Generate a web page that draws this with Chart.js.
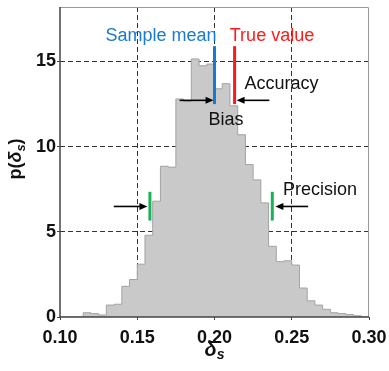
<!DOCTYPE html>
<html>
<head>
<meta charset="utf-8">
<script src="https://cdn.jsdelivr.net/npm/chart.js@4.4.1/dist/chart.umd.min.js"></script>
<style>
  html, body { margin: 0; padding: 0; background: #fff; }
</style>
</head>
<body>
<canvas id="histo" width="389" height="371"></canvas>
<script>
// left edges of the histogram bins (width 0.005)
const binStarts = [
  0.100, 0.105, 0.110, 0.115, 0.120, 0.125, 0.130, 0.135, 0.140, 0.145,
  0.150, 0.155, 0.160, 0.165, 0.170, 0.175, 0.180, 0.185, 0.190, 0.195,
  0.200, 0.205, 0.210, 0.215, 0.220, 0.225, 0.230, 0.235, 0.240, 0.245,
  0.250, 0.255, 0.260, 0.265, 0.270, 0.275, 0.280, 0.285, 0.290, 0.295
];
const binEnd = 0.300;
const density = [
  0, 0, 0, 0.25, 0.2, 0.12, 0.7, 0.75, 1.8, 2.2,
  3.1, 4.8, 6.8, 8.85, 8.8, 12.8, 12.65, 15.15, 14.75, 14.85,
  13.4, 13.7, 12.4, 10.7, 8.95, 8.05, 6.7, 4.15, 3.25, 3.3,
  3.05, 1.7, 0.95, 0.7, 0.45, 0.25, 0.2, 0.15, 0.07, 0
];
const xTicks = [0.10, 0.15, 0.20, 0.25, 0.30];
const yTicks = [0, 5, 10, 15];

// annotation values
const sampleMean = 0.200;
const trueValue = 0.213;
const meanSpan = [12.5, 15.9];
const precisionEdges = [0.1582, 0.2374];
const precisionSpan = [5.66, 7.35];
// arrows: [fromX, toX, y]
const biasArrows = [[0.1774, 0.1994, 12.72], [0.2355, 0.2143, 12.72]];
const precisionArrows = [[0.1348, 0.1566, 6.49], [0.2606, 0.2394, 6.49]];
// text labels: [text, x, y, align, colour]
const notes = [
  ['Sample mean', 0.2013, 16.47, 'right', '#1a7ad0'],
  ['True value', 0.2099, 16.47, 'left', '#ff1a1a'],
  ['Accuracy', 0.2194, 13.65, 'left', '#111'],
  ['Bias', 0.1961, 11.55, 'left', '#111'],
  ['Precision', 0.2443, 7.43, 'left', '#111']
];

const FONT = '"Liberation Sans", Arial, sans-serif';
const BLUE = '#1a7ad0', RED = '#ff1a1a', GREEN = '#19b357';

const histoPoints = binStarts.map((x, i) => ({ x: x, y: density[i] }));
histoPoints.push({ x: binEnd, y: 0 });

function near(v, list) {
  return list.some(t => Math.abs(v - t) < 1e-6);
}

function drawRich(ctx, parts, cx, cy) {
  let total = 0;
  parts.forEach(p => { ctx.font = p.font; total += ctx.measureText(p.t).width; });
  let x = cx - total / 2;
  ctx.textAlign = 'left';
  ctx.textBaseline = 'middle';
  parts.forEach(p => {
    ctx.font = p.font;
    ctx.fillText(p.t, x, cy + (p.dy || 0));
    x += ctx.measureText(p.t).width;
  });
}

function arrow(ctx, x1, x2, y) {
  const dir = x2 > x1 ? 1 : -1;
  ctx.beginPath();
  ctx.moveTo(x1, y);
  ctx.lineTo(x2 - dir * 6, y);
  ctx.stroke();
  ctx.beginPath();
  ctx.moveTo(x2, y);
  ctx.lineTo(x2 - dir * 8, y - 3.5);
  ctx.lineTo(x2 - dir * 8, y + 3.5);
  ctx.closePath();
  ctx.fill();
}

const extras = {
  id: 'extras',
  afterDraw(chart) {
    const { ctx, chartArea: a, scales: { x, y } } = chart;
    ctx.save();

    // frame
    ctx.lineWidth = 1;
    ctx.strokeStyle = '#999';
    ctx.beginPath();
    ctx.moveTo(a.left, a.top + 0.5);
    ctx.lineTo(a.right - 0.5, a.top + 0.5);
    ctx.lineTo(a.right - 0.5, a.bottom);
    ctx.stroke();
    ctx.lineWidth = 1.5;
    ctx.strokeStyle = '#444';
    ctx.beginPath();
    ctx.moveTo(a.left, a.top);
    ctx.lineTo(a.left, a.bottom);
    ctx.lineTo(a.right, a.bottom);
    ctx.stroke();

    // marker bars
    ctx.lineWidth = 3;
    [[sampleMean, BLUE, meanSpan], [trueValue, RED, meanSpan],
     [precisionEdges[0], GREEN, precisionSpan], [precisionEdges[1], GREEN, precisionSpan]]
      .forEach(([v, col, span]) => {
        const px = x.getPixelForValue(v);
        ctx.strokeStyle = col;
        ctx.beginPath();
        ctx.moveTo(px, y.getPixelForValue(span[0]));
        ctx.lineTo(px, y.getPixelForValue(span[1]));
        ctx.stroke();
      });

    // arrows
    ctx.lineWidth = 1.6;
    ctx.strokeStyle = '#000';
    ctx.fillStyle = '#000';
    biasArrows.concat(precisionArrows).forEach(([a1, a2, yv]) => {
      arrow(ctx, x.getPixelForValue(a1), x.getPixelForValue(a2), y.getPixelForValue(yv));
    });

    // labels
    ctx.font = '18px ' + FONT;
    ctx.textBaseline = 'middle';
    notes.forEach(([t, xv, yv, al, col]) => {
      ctx.textAlign = al;
      ctx.fillStyle = col;
      ctx.fillText(t, x.getPixelForValue(xv), y.getPixelForValue(yv));
    });

    // axis titles
    ctx.fillStyle = '#111';
    drawRich(ctx, [
      { t: '\u03b4', font: 'italic bold 20px ' + FONT },
      { t: 's', font: 'italic bold 14px ' + FONT, dy: 5 }
    ], (a.left + a.right) / 2, 350);

    ctx.translate(16, (a.top + a.bottom) / 2 - 3);
    ctx.rotate(-Math.PI / 2);
    drawRich(ctx, [
      { t: 'p(', font: 'bold 18px ' + FONT },
      { t: '\u03b4', font: 'italic bold 18px ' + FONT },
      { t: 's', font: 'italic bold 13px ' + FONT, dy: 5 },
      { t: ')', font: 'bold 18px ' + FONT }
    ], 0, 0);

    ctx.restore();
  }
};

new Chart(document.getElementById('histo').getContext('2d'), {
  type: 'line',
  data: {
    datasets: [{
      data: histoPoints,
      stepped: 'before',
      fill: 'origin',
      backgroundColor: '#c9c9c9',
      borderColor: '#a3a3a3',
      borderWidth: 1,
      pointRadius: 0
    }]
  },
  options: {
    responsive: false,
    animation: false,
    devicePixelRatio: 1,
    layout: { padding: { left: 0, right: 20, top: 7, bottom: 0 } },
    scales: {
      x: {
        type: 'linear',
        min: 0.1,
        max: 0.3,
        z: 1,
        afterFit: s => { s.height = 54; s.paddingLeft = 0; s.paddingRight = 0; },
        afterBuildTicks: s => { s.ticks = xTicks.map(v => ({ value: v })); },
        ticks: {
          color: '#111',
          padding: 7,
          font: { family: FONT, size: 18, weight: 'bold' },
          callback: v => v.toFixed(2)
        },
        grid: {
          color: c => (c.tick && near(c.tick.value, [0.1, 0.3])) ? 'rgba(0,0,0,0)' : '#333',
          lineWidth: 1,
          tickLength: 3,
          tickColor: '#444'
        },
        border: { display: false, dash: [5, 3] }
      },
      y: {
        min: 0,
        max: 18.2,
        z: 1,
        afterFit: s => { s.width = 60; s.paddingTop = 0; s.paddingBottom = 0; },
        afterBuildTicks: s => { s.ticks = yTicks.map(v => ({ value: v })); },
        ticks: {
          color: '#111',
          padding: 1,
          font: { family: FONT, size: 18, weight: 'bold' }
        },
        grid: {
          color: c => (c.tick && c.tick.value === 0) ? 'rgba(0,0,0,0)' : '#333',
          lineWidth: 1,
          tickLength: 3,
          tickColor: '#444'
        },
        border: { display: false, dash: [5, 3] }
      }
    },
    plugins: {
      legend: { display: false },
      tooltip: { enabled: false }
    }
  },
  plugins: [extras]
});
</script>
</body>
</html>
